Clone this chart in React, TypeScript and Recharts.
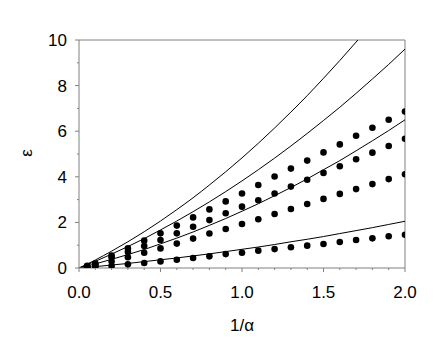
import { ComposedChart, Line, Scatter, XAxis, YAxis, ReferenceLine } from "recharts";

// curves: read at 1/α = 0, 0.1, ... 2.0
const curveX = [0, 0.1, 0.2, 0.3, 0.4, 0.5, 0.6, 0.7, 0.8, 0.9, 1.0, 1.1, 1.2, 1.3, 1.4, 1.5, 1.6, 1.7, 1.8, 1.9, 2.0];
const curve1 = [0, 0.35, 0.74, 1.15, 1.59, 2.06, 2.56, 3.08, 3.64, 4.22, 4.83, 5.47, 6.14, 6.84, 7.56, 8.32, 9.1, 9.91, 10.75, 11.62, 12.52];
const curve2 = [0, 0.29, 0.61, 0.94, 1.29, 1.67, 2.06, 2.47, 2.9, 3.35, 3.82, 4.31, 4.82, 5.35, 5.9, 6.47, 7.05, 7.66, 8.29, 8.93, 9.6];
const curve3 = [0, 0.18, 0.38, 0.59, 0.81, 1.06, 1.31, 1.58, 1.87, 2.17, 2.49, 2.82, 3.17, 3.53, 3.91, 4.31, 4.71, 5.14, 5.58, 6.03, 6.5];
const curve4 = [0, 0.06, 0.13, 0.2, 0.28, 0.36, 0.44, 0.53, 0.62, 0.72, 0.82, 0.92, 1.03, 1.15, 1.26, 1.38, 1.51, 1.64, 1.77, 1.91, 2.05];

// measured points
const dotX = [0.05, 0.1, 0.2, 0.3, 0.4, 0.5, 0.6, 0.7, 0.8, 0.9, 1.0, 1.1, 1.2, 1.3, 1.4, 1.5, 1.6, 1.7, 1.8, 1.9, 2.0];
const dotsA = [0.1, 0.2, 0.55, 0.86, 1.2, 1.52, 1.86, 2.22, 2.57, 2.92, 3.27, 3.64, 4.01, 4.36, 4.71, 5.07, 5.42, 5.8, 6.15, 6.5, 6.86];
const dotsB = [0.08, 0.16, 0.47, 0.7, 0.96, 1.23, 1.52, 1.81, 2.1, 2.4, 2.69, 2.97, 3.27, 3.57, 3.87, 4.17, 4.46, 4.77, 5.06, 5.35, 5.67];
const dotsC = [0.05, 0.1, 0.28, 0.47, 0.67, 0.86, 1.07, 1.29, 1.51, 1.71, 1.93, 2.14, 2.37, 2.59, 2.81, 3.03, 3.25, 3.46, 3.68, 3.9, 4.11];
const dotsD = [0.02, 0.04, 0.09, 0.16, 0.22, 0.29, 0.36, 0.44, 0.51, 0.61, 0.67, 0.76, 0.83, 0.91, 0.98, 1.05, 1.14, 1.23, 1.3, 1.39, 1.46];

const xTicks = [0, 0.1, 0.2, 0.3, 0.4, 0.5, 0.6, 0.7, 0.8, 0.9, 1.0, 1.1, 1.2, 1.3, 1.4, 1.5, 1.6, 1.7, 1.8, 1.9, 2.0];
const yTicks = [0, 1, 2, 3, 4, 5, 6, 7, 8, 9, 10];

const curves = [curve1, curve2, curve3, curve4].map((c) => curveX.map((x, i) => ({ x, y: c[i] })));
const dotSets = [dotsA, dotsB, dotsC, dotsD].map((d) => dotX.map((x, i) => ({ x, y: d[i] })));

const FONT = "'Liberation Sans', Arial, sans-serif";
const AXIS = "#808080";

function XTick(props: any) {
  const { x, y, payload } = props;
  const v = payload.value as number;
  const major = Math.abs(v * 2 - Math.round(v * 2)) < 1e-6;
  return (
    <g>
      <line x1={x} x2={x} y1={y} y2={y + (major ? 4 : 2)} stroke={AXIS} />
      {major && (
        <text x={x} y={y + 30} textAnchor="middle" fontSize={17} fontFamily={FONT} fill="#000">
          {v.toFixed(1)}
        </text>
      )}
    </g>
  );
}

function YTick(props: any) {
  const { x, y, payload } = props;
  const v = payload.value as number;
  const major = v % 2 === 0;
  return (
    <g>
      <line x1={x} x2={x - (major ? 4 : 2)} y1={y} y2={y} stroke={AXIS} />
      {major && (
        <text x={x - 12} y={y + 6} textAnchor="end" fontSize={17} fontFamily={FONT} fill="#000">
          {v}
        </text>
      )}
    </g>
  );
}

const dot = (p: any) => <circle cx={p.cx} cy={p.cy} r={3.3} fill="#000" />;

export default function App() {
  return (
    <div style={{ position: "absolute", left: 0, top: 0, width: 443, height: 346, background: "#fff" }}>
      <ComposedChart width={443} height={346} margin={{ top: 40, right: 38, left: 0, bottom: 38 }}>
        <XAxis
          type="number"
          dataKey="x"
          domain={[0, 2]}
          ticks={xTicks}
          interval={0}
          tickSize={0}
          tickMargin={0}
          tickLine={false}
          height={40}
          stroke={AXIS}
          tick={(p: any) => <XTick {...p} />}
          allowDataOverflow
          label={{
            content: (p: any) => (
              <text x={p.viewBox.x + p.viewBox.width / 2} y={p.viewBox.y + 63} textAnchor="middle" fontSize={17} fontFamily={FONT} fill="#000">
                1/α
              </text>
            ),
          }}
        />
        <YAxis
          type="number"
          dataKey="y"
          domain={[0, 10]}
          ticks={yTicks}
          interval={0}
          tickSize={0}
          tickMargin={0}
          tickLine={false}
          width={79}
          stroke={AXIS}
          tick={(p: any) => <YTick {...p} />}
          allowDataOverflow
          label={{
            content: () => (
              <text x={26} y={153} transform="rotate(-90, 26, 153)" textAnchor="middle" dominantBaseline="central" fontSize={17} fontFamily={FONT} fill="#000">
                ε
              </text>
            ),
          }}
        />
        <ReferenceLine y={10} stroke={AXIS} />
        <ReferenceLine x={2} stroke={AXIS} />
        {curves.map((c, i) => (
          <Line key={"c" + i} data={c} dataKey="y" type="monotone" stroke="#000" strokeWidth={1} dot={false} isAnimationActive={false} />
        ))}
        {dotSets.map((d, i) => (
          <Scatter key={"d" + i} data={d} dataKey="y" fill="#000" shape={dot} isAnimationActive={false} />
        ))}
      </ComposedChart>
    </div>
  );
}
